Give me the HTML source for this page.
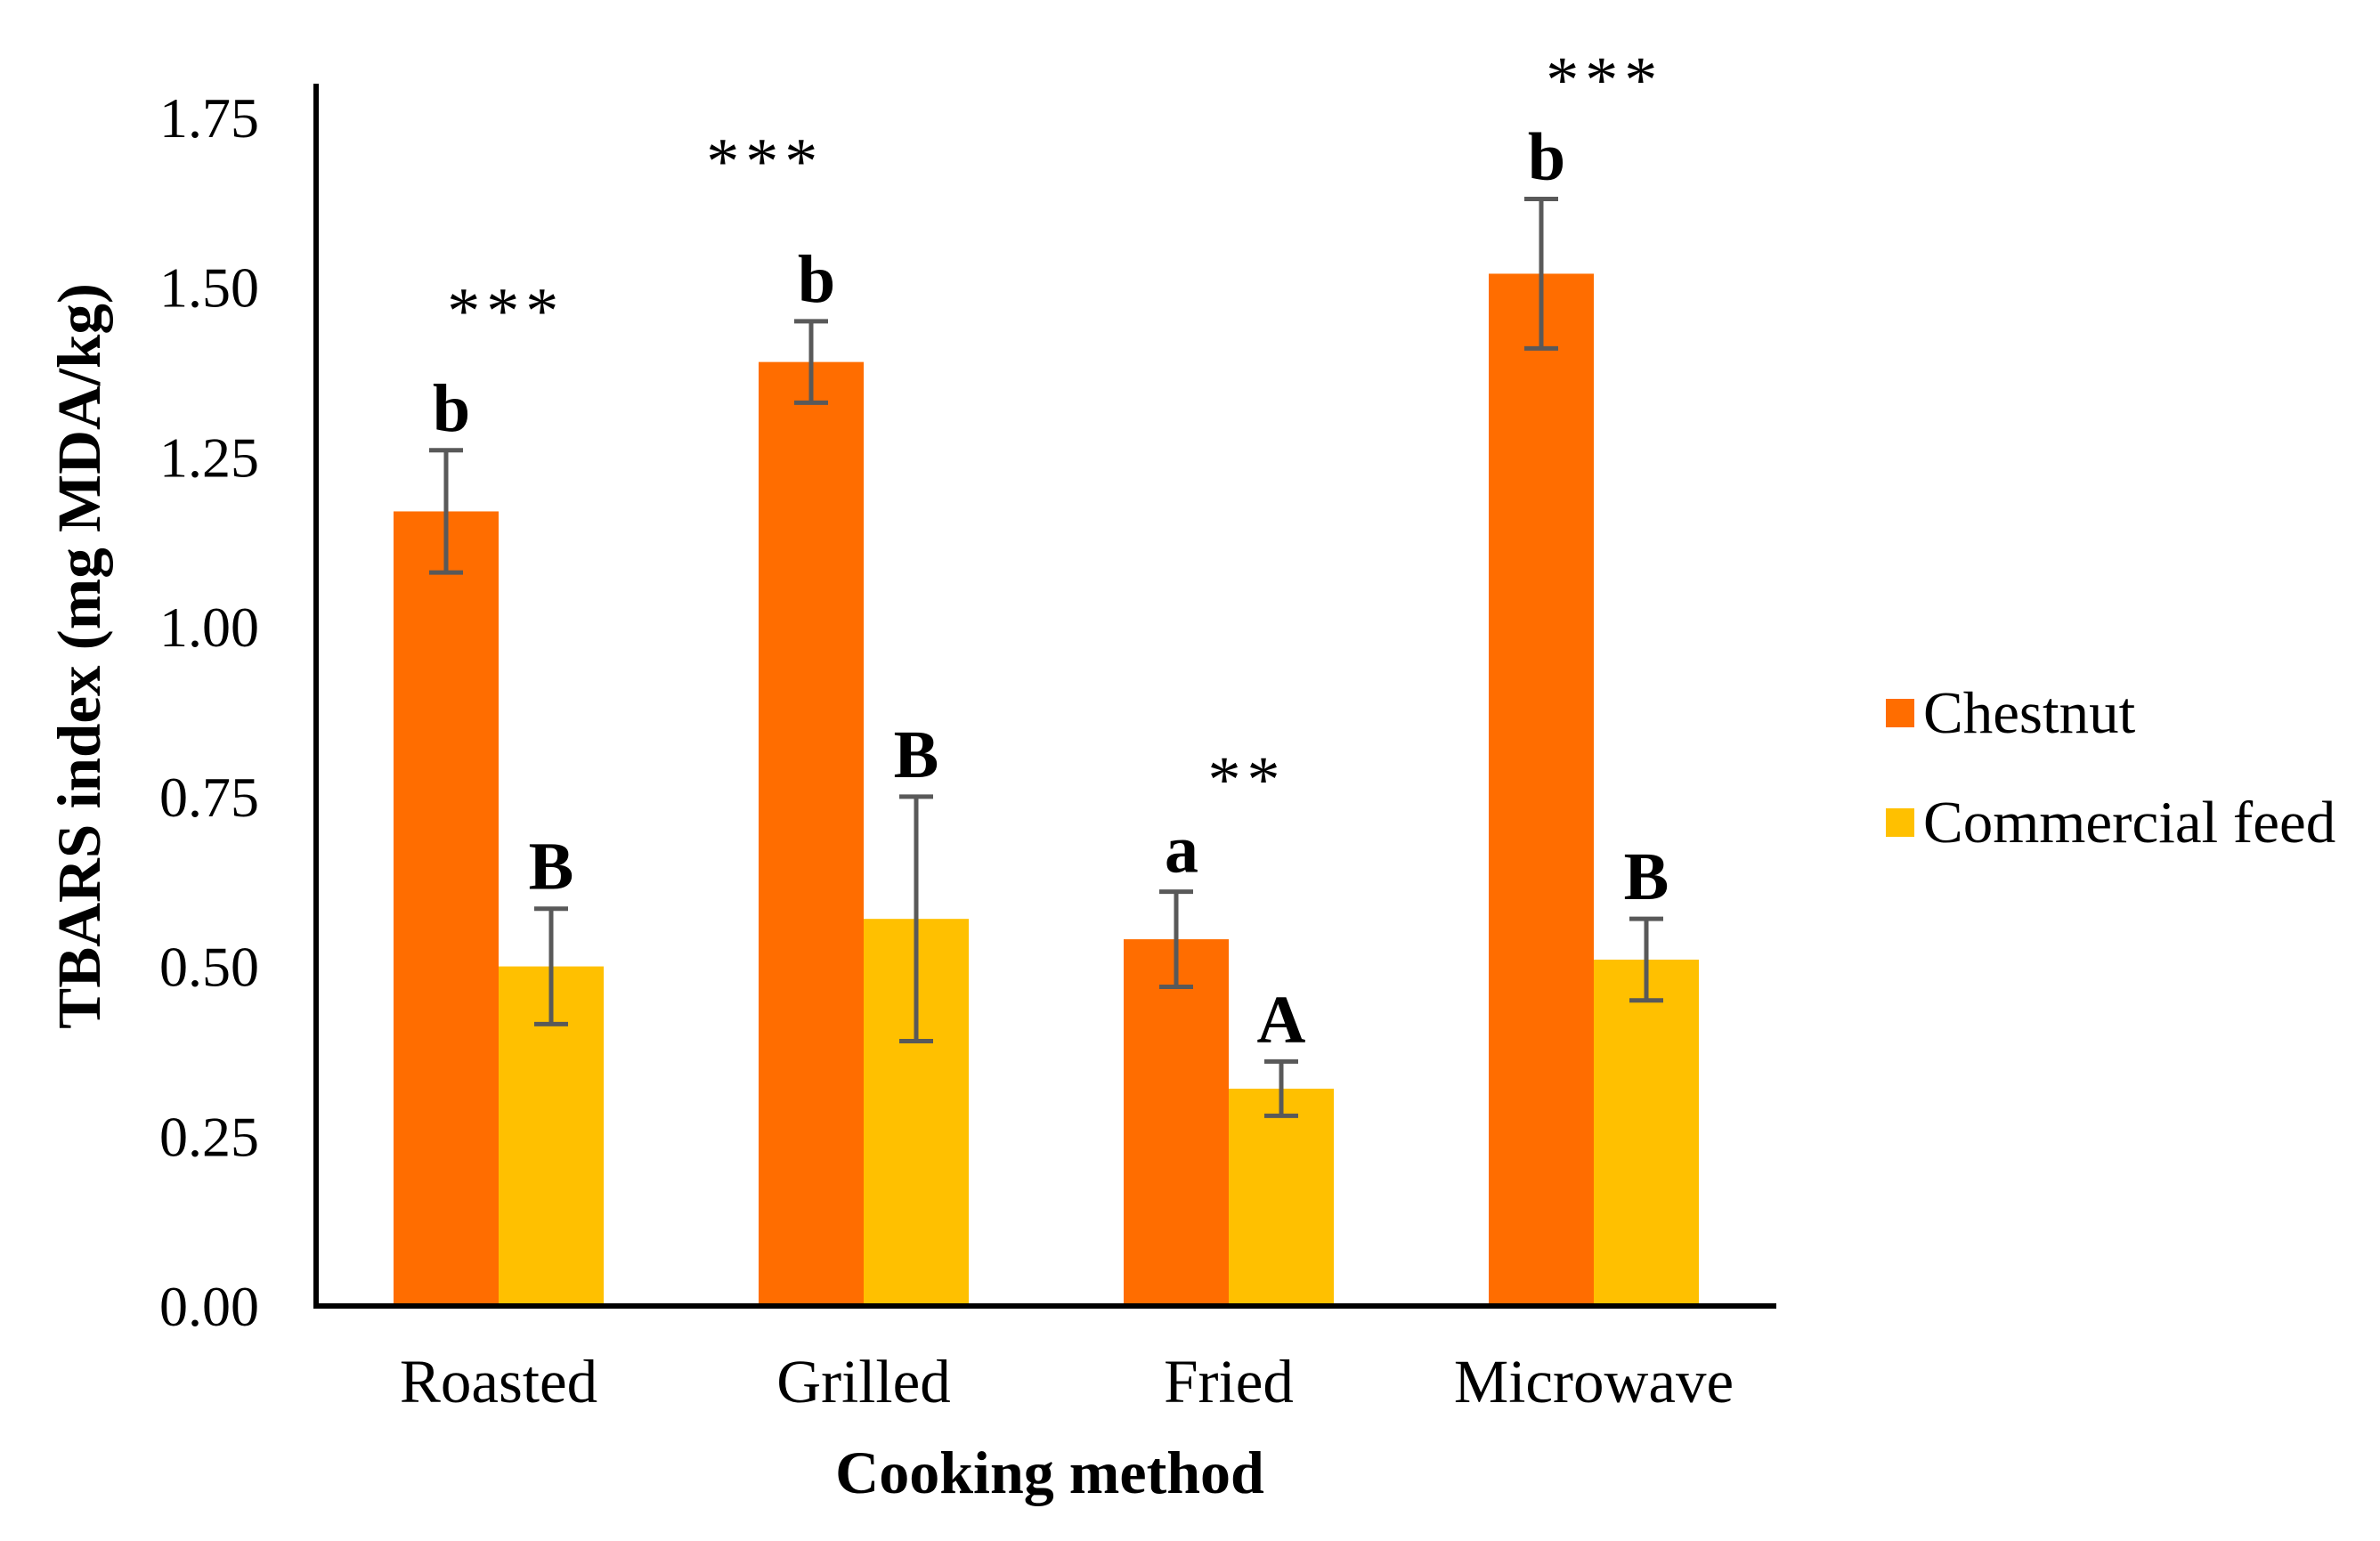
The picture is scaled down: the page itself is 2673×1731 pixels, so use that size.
<!DOCTYPE html>
<html><head><meta charset="utf-8"><style>
html,body{margin:0;padding:0;background:#fff;}
svg{display:block;font-family:"Liberation Serif",serif;}
</style></head><body>
<svg id="chart" width="2673" height="1731" viewBox="0 0 2673 1731"></svg>
<script>
const categories = ["Roasted","Grilled","Fried","Microwave"];
const chestnut = [1.17, 1.39, 0.54, 1.52];
const chestnutErr = [0.09, 0.06, 0.07, 0.11];
const commercial = [0.50, 0.57, 0.32, 0.51];
const commercialErr = [0.085, 0.18, 0.04, 0.06];
const chestnutLetters = ["b","b","a","b"];
const commercialLetters = ["B","B","A","B"];
const stars = ["***","***","**","***"];
const starValues = [1.48, 1.70, 0.79, 1.82];
const starShift = [0.02, -0.27, 0.05, 0.03];
const yTicks = [0, 0.25, 0.5, 0.75, 1.0, 1.25, 1.5, 1.75];

const NS = "http://www.w3.org/2000/svg";
const svg = document.getElementById("chart");
const X0 = 355, X1 = 1995, Y0 = 1467, Y175 = 132;
const yS = v => Y0 - (Y0 - Y175) * v / 1.75;
const band = (X1 - X0) / categories.length;
const xC = i => X0 + band * (i + 0.5);
const BW = 118;
function mk(tag, attrs, text){
  const e = document.createElementNS(NS, tag);
  for (const k in attrs) e.setAttribute(k, attrs[k]);
  if (text !== undefined) e.textContent = text;
  svg.appendChild(e);
  return e;
}
yTicks.forEach(t => {
  const e = mk("text",{x:291,y:yS(t)+22,"text-anchor":"end","font-size":64,fill:"#000"}, t.toFixed(2));
  
  
});
function errBar(cx, v, err){
  const g = [[cx, yS(v+err), cx, yS(v-err)],[cx-19, yS(v+err), cx+19, yS(v+err)],[cx-19, yS(v-err), cx+19, yS(v-err)]];
  g.forEach(c => {
    const l = mk("line",{x1:c[0],y1:c[1],x2:c[2],y2:c[3],stroke:"#595959","stroke-width":5});
    
    
  });
}
categories.forEach((c, i) => {
  const cx = xC(i);
  const b1 = mk("rect",{x:cx-BW,y:yS(chestnut[i]),width:BW,height:Y0-yS(chestnut[i]),fill:"#FF6D00"});
  
  
  const b2 = mk("rect",{x:cx,y:yS(commercial[i]),width:BW,height:Y0-yS(commercial[i]),fill:"#FFC000"});
  
  
  errBar(cx-BW/2, chestnut[i], chestnutErr[i]);
  errBar(cx+BW/2, commercial[i], commercialErr[i]);
  const l1 = mk("text",{x:cx-BW/2+6,y:yS(chestnut[i]+chestnutErr[i])-22,"text-anchor":"middle","font-size":76,"font-weight":"bold"}, chestnutLetters[i]);
  
  
  const l2 = mk("text",{x:cx+BW/2,y:yS(commercial[i]+commercialErr[i])-22,"text-anchor":"middle","font-size":76,"font-weight":"bold"}, commercialLetters[i]);
  
  
  const s = mk("text",{x:cx+band*starShift[i],y:yS(starValues[i])+36,"text-anchor":"middle","font-size":74,"letter-spacing":"7"}, stars[i]);
  
  
  const t = mk("text",{x:cx,y:1575,"text-anchor":"middle","font-size":69}, c);
  
  
});
const ax = mk("polyline",{points:`${X0},94 ${X0},${Y0} ${X1},${Y0}`,fill:"none",stroke:"#000","stroke-width":6});


const xt = mk("text",{x:1179,y:1677,"text-anchor":"middle","font-size":68,"font-weight":"bold"}, "Cooking method");


const yt = mk("text",{x:0,y:0,"text-anchor":"middle","font-size":69,"font-weight":"bold",transform:"translate(112,737) rotate(-90)"}, "TBARS index (mg MDA/kg)");


[["Chestnut","#FF6D00",785],["Commercial feed","#FFC000",908]].forEach(e => {
  const r = mk("rect",{x:2118,y:e[2],width:32,height:32,fill:e[1]});
  
  
  const t = mk("text",{x:2160,y:e[2]+38,"font-size":67}, e[0]);
  
  
});
</script>
</body></html>
